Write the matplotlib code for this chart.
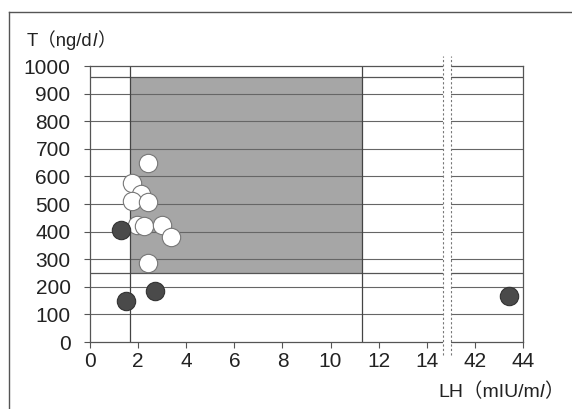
import matplotlib
matplotlib.use("Agg")
import matplotlib.pyplot as plt
from matplotlib.lines import Line2D
from matplotlib.patches import Rectangle

plt.rcParams['font.family'] = ['Liberation Sans', 'Noto Sans CJK JP', 'DejaVu Sans']

# ---- data ----
white_lh = [2.4, 1.75, 2.1, 1.75, 2.4, 1.95, 2.25, 3.0, 3.35, 2.4]
white_t = [650, 575, 536, 512, 508, 424, 421, 424, 382, 287]
dark_lh = [1.3, 1.5, 2.7, 43.4]
dark_t = [406, 147, 186, 168]
x_tick_values = [0, 2, 4, 6, 8, 10, 12, 14, 42, 44]
x_tick_labels = ['0', '2', '4', '6', '8', '10', '12', '14', '42', '44']
y_ticks = [0, 100, 200, 300, 400, 500, 600, 700, 800, 900, 1000]
normal_lh = (1.67, 11.3)
normal_t = (250, 960)

BREAK_SHIFT = 26  # 41 -> 15 on the compressed axis


def fx(x):
    return x if x <= 15 else x - BREAK_SHIFT


W, H = 572, 409
fig = plt.figure(figsize=(W / 100, H / 100), dpi=100)
ax = fig.add_axes([90 / W, 1 - 342 / H, (523 - 90) / W, (342 - 66) / H])
ax.set_xlim(0, 18)
ax.set_ylim(0, 1000)

# shaded normal range
ax.add_patch(Rectangle((normal_lh[0], normal_t[0]), normal_lh[1] - normal_lh[0],
                       normal_t[1] - normal_t[0], facecolor='#a6a6a6',
                       edgecolor='none', zorder=1))

# grid lines
for yv in y_ticks[1:-1]:
    ax.axhline(yv, color='#666666', lw=0.8, zorder=2)
for yv in normal_t:
    ax.axhline(yv, color='#555555', lw=0.9, zorder=2)
for xv in normal_lh:
    ax.axvline(xv, color='#444444', lw=0.9, zorder=2)

# points
ax.scatter([fx(v) for v in white_lh], white_t, s=175, facecolor='white',
           edgecolor='#777777', linewidth=0.8, zorder=4)
ax.scatter([fx(v) for v in dark_lh], dark_t, s=175, facecolor='#4a4a4a',
           edgecolor='#333333', linewidth=0.8, zorder=4)

# ticks
ax.set_xticks([fx(v) for v in x_tick_values])
ax.set_xticklabels(x_tick_labels)
ax.set_yticks(y_ticks)
ax.set_yticklabels([str(v) for v in y_ticks])
ax.tick_params(axis='both', direction='out', length=4, width=0.8,
               color='#555555', labelsize=15, labelcolor='#222222')
ax.tick_params(axis='y', pad=10)
ax.tick_params(axis='x', pad=3)
for sp in ax.spines.values():
    sp.set_color('#555555')
    sp.set_linewidth(0.9)

# axis break
b0, b1 = 14.67, 15.0
ax.add_patch(Rectangle((b0, -60), b1 - b0, 1120, facecolor='white',
                       edgecolor='none', zorder=5, clip_on=False))
for bx in (b0, b1):
    ax.add_line(Line2D([bx, bx], [-48, 1038], color='#777777', lw=0.8,
                       linestyle=(0, (2, 2)), zorder=6, clip_on=False))

# axis labels with italic l
fig.canvas.draw()
renderer = fig.canvas.get_renderer()


def compose(x, y, parts, size):
    cx = x
    for txt, style in parts:
        t = fig.text(cx / W, 1 - y / H, txt, fontsize=size, style=style,
                     color='#222222', ha='left', va='baseline')
        bb = t.get_window_extent(renderer)
        cx += bb.width
    return cx


compose(27, 46, [('T（ng/d', 'normal'), ('l', 'italic'), ('）', 'normal')], 13.3)
compose(438, 397, [('LH（mIU/m', 'normal'), ('l', 'italic'), ('）', 'normal')], 14)

# outer frame (top and left)
fig.add_artist(Line2D([9 / W, 1], [1 - 12 / H, 1 - 12 / H], color='#555555', lw=1))
fig.add_artist(Line2D([9 / W, 9 / W], [0, 1 - 12 / H], color='#555555', lw=1))

fig.savefig('out.png', dpi=100)
